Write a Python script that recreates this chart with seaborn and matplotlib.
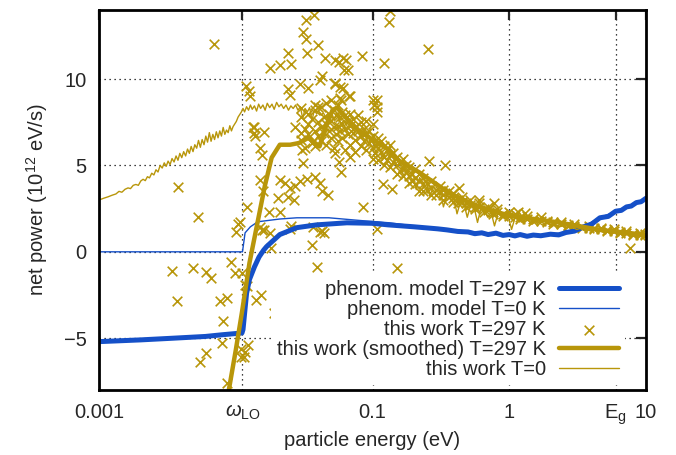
import numpy as np
import pandas as pd
import matplotlib
matplotlib.use("Agg")
import matplotlib.pyplot as plt
import seaborn as sns

# energies in eV, power in 1e12 eV/s
w_lo = 0.0112
e_gap = 6.0

model_297_e = [0.001, 0.002, 0.0035, 0.006, 0.008, 0.0111, 0.0113, 0.0120, 0.0126, 0.0137,
               0.0148, 0.0160, 0.0168, 0.021, 0.028, 0.039, 0.065, 0.1, 0.13, 0.2, 0.3,
               0.35, 0.42, 0.5, 0.56, 0.63, 0.7, 0.8, 0.9, 1.0, 1.1, 1.2, 1.35, 1.5, 1.7,
               2.0, 2.3, 2.6, 3.0, 3.5, 4.0, 4.6, 5.3, 6.0, 6.6, 7.2, 7.8, 8.5, 9.2, 10.0]
model_297_p = [-5.2, -5.1, -5.0, -4.9, -4.8, -4.7, -4.5, -2.4, -1.6, -0.87,
               -0.3, 0.1, 0.3, 1.0, 1.4, 1.56, 1.68, 1.65, 1.56, 1.45, 1.33,
               1.27, 1.18, 1.15, 1.05, 1.1, 1.0, 1.08, 0.95, 1.0, 0.92, 1.0, 0.9, 0.97, 0.93,
               1.02, 0.98, 1.12, 1.2, 1.45, 1.6, 1.97, 2.05, 2.35, 2.4, 2.6, 2.65, 2.85, 2.9, 3.1]

model_0_e = [0.001, 0.0112, 0.0117, 0.0128, 0.0145, 0.021, 0.028, 0.048, 0.085, 0.133,
             0.2, 0.35, 0.63, 1.0, 1.5, 2.0, 2.6, 3.5, 4.6, 6.0, 7.2, 8.5, 10.0]
model_0_p = [0.0, 0.0, 1.1, 1.45, 1.74, 1.9, 1.97, 1.97, 1.8, 1.68,
             1.5, 1.3, 1.12, 1.02, 0.97, 1.02, 1.12, 1.47, 1.99, 2.32, 2.57, 2.82, 3.12]

smooth_e = [0.0089, 0.0100, 0.0111, 0.0126, 0.0141, 0.0163, 0.0183, 0.021, 0.025, 0.029,
            0.034, 0.041, 0.046, 0.051, 0.055, 0.065, 0.08, 0.1, 0.133, 0.155, 0.22,
            0.365, 0.6, 1.0, 2.3, 4.6, 10.0]
smooth_p = [-8.0, -5.7, -3.5, -0.64, 1.3, 3.8, 5.45, 6.2, 6.2, 6.3,
            6.6, 6.1, 7.35, 8.2, 8.35, 7.7, 7.0, 6.5, 5.9, 5.3, 4.6,
            3.4, 2.6, 2.1, 1.7, 1.27, 0.98]

work_0_e = [0.00100, 0.00108, 0.00116, 0.00125, 0.00133, 0.00140, 0.00147, 0.00155, 0.00163, 0.00170,
            0.00178, 0.00186, 0.00194, 0.00202, 0.00210, 0.00218, 0.00226, 0.00234, 0.00243, 0.00252,
            0.00261, 0.00270, 0.00280, 0.00290, 0.00300, 0.00310, 0.00320, 0.00331, 0.00342, 0.00354,
            0.00366, 0.00378, 0.00390, 0.00403, 0.00416, 0.00430, 0.00444, 0.00458, 0.00472, 0.00487,
            0.00502, 0.00518, 0.00534, 0.00551, 0.00568, 0.00586, 0.00604, 0.00622, 0.00641, 0.00660,
            0.00680, 0.00700, 0.00721, 0.00742, 0.00764, 0.00786, 0.00809, 0.00832, 0.00856, 0.00880,
            0.00905, 0.00930, 0.00956, 0.00983, 0.01010, 0.01040, 0.01070, 0.01100,
            0.0113, 0.0116, 0.0120, 0.0124, 0.0128, 0.0132, 0.0137, 0.0142, 0.0147, 0.0152,
            0.0158, 0.0164, 0.0170, 0.0177, 0.0184, 0.0191, 0.0199, 0.0207, 0.0215, 0.0224,
            0.0233, 0.0243, 0.0253, 0.0263, 0.0274, 0.0285, 0.0297, 0.0309, 0.0321, 0.0334,
            0.0347, 0.0361, 0.0375, 0.0390, 0.0405, 0.0421, 0.0437, 0.0454, 0.0472, 0.0490,
            0.0510, 0.053, 0.056, 0.059, 0.062, 0.066, 0.070, 0.074, 0.078, 0.083,
            0.088, 0.093, 0.099, 0.105, 0.111, 0.118, 0.125, 0.132, 0.140, 0.148,
            0.157, 0.166, 0.176, 0.186, 0.197, 0.209, 0.221, 0.234, 0.248, 0.263,
            0.278, 0.295, 0.312, 0.330, 0.350, 0.370, 0.392, 0.415, 0.440, 0.466,
            0.493, 0.522, 0.553, 0.586, 0.620, 0.657, 0.696, 0.737, 0.780, 0.826,
            0.875, 0.927, 0.982, 1.04, 1.10, 1.17, 1.24, 1.31, 1.39, 1.47,
            1.56, 1.65, 1.75, 1.85, 1.96, 2.08, 2.20, 2.33, 2.47, 2.62,
            2.77, 2.94, 3.11, 3.30, 3.49, 3.70, 3.92, 4.15, 4.40, 4.66,
            4.94, 5.23, 5.54, 5.87, 6.22, 6.59, 6.98, 7.39, 7.83, 8.30,
            8.79, 9.31, 9.86]
work_0_p = [3.00, 3.10, 3.18, 3.28, 3.35, 3.50, 3.45, 3.62, 3.70, 3.66,
            3.85, 3.90, 3.85, 4.10, 4.20, 4.12, 4.35, 4.28, 4.55, 4.45,
            4.75, 4.62, 5.00, 4.85, 5.15, 4.95, 5.25, 5.05, 5.40, 5.20,
            5.55, 5.30, 5.70, 5.45, 5.80, 5.55, 5.95, 5.70, 6.10, 5.80,
            6.20, 6.00, 6.45, 6.05, 6.50, 6.20, 6.70, 6.35, 6.90, 6.40,
            6.80, 6.50, 6.95, 6.60, 7.00, 6.70, 7.20, 6.80, 7.05, 6.90,
            7.30, 7.00, 7.25, 7.40, 7.55, 7.80, 7.95, 8.10,
            8.30, 8.10, 8.40, 8.20, 8.50, 8.25, 8.45, 8.15, 8.55, 8.30,
            8.50, 8.20, 8.60, 8.35, 8.55, 8.25, 8.65, 8.40, 8.55, 8.30,
            8.50, 8.20, 8.45, 8.30, 8.50, 8.20, 8.40, 7.70, 8.30, 8.10,
            8.35, 7.60, 8.20, 8.00, 8.15, 7.90, 8.05, 7.80, 8.00, 7.70,
            7.90, 7.60, 7.80, 7.40, 7.60, 7.20, 7.40, 6.90, 7.10, 6.60,
            6.80, 6.30, 6.50, 6.00, 6.20, 5.30, 5.80, 5.50, 5.60, 5.10,
            5.30, 4.60, 4.90, 4.50, 4.70, 3.60, 4.30, 4.00, 4.10, 3.20,
            3.80, 3.50, 3.60, 2.60, 3.30, 3.10, 3.20, 2.20, 2.90, 2.80,
            2.00, 2.70, 2.60, 1.70, 2.50, 2.40, 2.00, 2.30, 1.50, 2.20,
            2.10, 1.90, 2.05, 1.30, 1.95, 1.90, 1.70, 1.85, 1.80, 1.60,
            1.75, 1.70, 1.55, 1.65, 1.60, 1.50, 1.55, 1.45, 1.50, 1.35,
            1.45, 1.40, 1.30, 1.35, 1.25, 1.30, 1.20, 1.25, 1.15, 1.20,
            1.10, 1.15, 1.05, 1.10, 1.00, 1.05, 0.95, 1.00, 0.90, 0.95,
            0.85, 0.90, 0.85]

# scattered points "this work T=297 K": outliers first, then the dense band
scat_e = [0.0038, 0.0053, 0.0069, 0.0034, 0.0049, 0.0061, 0.0066, 0.0037, 0.0077, 0.0087,
          0.0081, 0.0080, 0.0061, 0.0055, 0.0093, 0.0098, 0.0100, 0.0103, 0.0087,
          0.0111, 0.0116, 0.0120, 0.0140, 0.0152, 0.0192, 0.0110, 0.0117, 0.0109, 0.0115,
          0.0122, 0.0118, 0.0124, 0.0127, 0.0133, 0.0138, 0.0150, 0.0155, 0.0137, 0.0160,
          0.0150, 0.0157, 0.0120, 0.0175, 0.0108, 0.0150, 0.0155, 0.0180, 0.0160, 0.0178,
          0.0210, 0.0228, 0.0248, 0.0270, 0.0293, 0.033, 0.038, 0.041, 0.043, 0.047,
          0.0205, 0.0240, 0.0265, 0.021, 0.025, 0.037, 0.041, 0.036, 0.039, 0.028,
          0.0255, 0.043, 0.044,
          0.0179, 0.0210, 0.0255, 0.0243, 0.0325, 0.0375, 0.031, 0.0325, 0.040, 0.033,
          0.045, 0.053, 0.061, 0.084, 0.062, 0.121, 0.134, 0.131, 0.254, 0.057,
          0.064, 0.066, 0.053, 0.061, 0.059, 0.069, 0.101, 0.107, 0.0243, 0.0293,
          0.034, 0.041, 0.043, 0.053, 0.058, 0.067, 0.058, 0.038, 0.040, 0.0250,
          0.103, 0.107, 0.0137, 0.027, 0.030, 0.107, 0.0305, 0.031, 0.053, 0.057,
          0.068, 0.059, 0.085, 0.107, 0.15, 7.7, 0.26, 0.34, 0.12, 0.14,
          0.22, 0.43, 0.77, 0.6, 1.15, 1.3,
          0.030, 0.030, 0.030, 0.032, 0.032, 0.034, 0.034, 0.034, 0.036, 0.036,
          0.038, 0.038, 0.038, 0.040, 0.040, 0.042, 0.042, 0.042, 0.044, 0.044,
          0.046, 0.046, 0.046, 0.048, 0.048, 0.050, 0.050, 0.050, 0.052, 0.052,
          0.052, 0.054, 0.054, 0.056, 0.056, 0.056, 0.058, 0.058, 0.060, 0.060,
          0.060, 0.063, 0.063, 0.063, 0.066, 0.066, 0.069, 0.069, 0.069, 0.072,
          0.072, 0.075, 0.075, 0.075, 0.078, 0.078, 0.082, 0.082, 0.082, 0.086,
          0.086, 0.090, 0.090, 0.090, 0.095, 0.095, 0.100, 0.100, 0.100, 0.100,
          0.105, 0.105, 0.110, 0.110, 0.110, 0.116, 0.116, 0.122, 0.122, 0.122,
          0.128, 0.128, 0.135, 0.135, 0.135, 0.142, 0.142, 0.150, 0.150, 0.150,
          0.158, 0.158, 0.166, 0.166, 0.166, 0.175, 0.175, 0.185, 0.185, 0.185,
          0.195, 0.195, 0.205, 0.205, 0.205, 0.22, 0.22, 0.235, 0.235, 0.235,
          0.25, 0.25, 0.27, 0.27, 0.27, 0.29, 0.29, 0.31, 0.31, 0.33,
          0.33, 0.33, 0.36, 0.36, 0.39, 0.39, 0.39, 0.42, 0.42, 0.45,
          0.45, 0.48, 0.48, 0.52, 0.52, 0.56, 0.56, 0.60, 0.60, 0.65,
          0.65, 0.70, 0.70, 0.76, 0.76, 0.82, 0.82, 0.90, 0.90, 1.0,
          1.0, 1.1, 1.1, 1.2, 1.2, 1.35, 1.35, 1.5, 1.5, 1.7,
          1.7, 1.9, 1.9, 2.1, 2.1, 2.4, 2.4, 2.7, 2.7, 3.0,
          3.0, 3.4, 3.4, 3.8, 3.8, 4.2, 4.2, 4.7, 4.7, 5.2,
          5.2, 5.8, 5.8, 6.5, 6.5, 7.2, 7.2, 8.0, 8.0, 9.0,
          9.0, 9.8, 9.8]
scat_p = [3.77, 2.03, 12.05, -1.1, -0.93, -1.16, -1.5, -2.84, -2.85, -2.67,
          -4.0, -5.3, -5.85, -6.4, -0.6, -1.2, 1.15, 1.6, -7.6,
          -1.2, -1.9, -2.0, -2.8, -2.5, -3.55, -5.6, -5.8, -6.1, -6.1,
          -5.4, 9.6, 9.3, 9.0, 7.2, 6.7, 6.0, 5.6, 6.9, 6.95,
          4.17, 3.5, 2.6, 2.3, 1.7, 1.45, 1.27, 0.23, 1.27, 1.1,
          4.17, 4.0, 3.7, 3.8, 4.1, 4.2, 4.35, 4.0, 3.5, 3.3,
          3.1, 3.2, 3.0, 2.3, 1.3, 1.45, 1.15, 0.4, -0.87, -2.9,
          1.5, 1.2, 1.1,
          10.65, 10.8, 10.9, 11.5, 13.4, 13.7, 12.75, 12.3, 12.0, 11.5,
          11.2, 11.1, 11.2, 11.35, 10.5, 10.95, 13.96, 13.3, 11.76, 11.0,
          11.1, 10.5, 9.8, 9.5, 8.8, 9.0, 8.8, 8.4, 9.4, 9.7,
          9.5, 9.95, 10.2, 9.7, 9.55, 9.0, 8.9, 8.5, 8.4, 9.1,
          8.5, 8.8, 7.25, 7.25, 6.9, 8.1, 5.9, 5.15, 5.7, 5.2,
          5.5, 4.6, 2.6, 1.33, -0.93, 0.23, 5.25, 5.0, 3.9, 3.65,
          3.5, 3.7, 2.84, 3.0, 2.3, 2.25,
          7.8, 6.5, 8.3, 7.1, 6.0, 8.0, 6.8, 7.4, 6.3, 7.7,
          7.0, 8.2, 6.1, 7.5, 6.7, 8.4, 7.2, 6.4, 6.9, 7.8,
          7.4, 8.6, 6.2, 7.0, 8.0, 7.6, 6.6, 8.8, 7.2, 6.0,
          8.2, 7.9, 6.8, 7.3, 8.5, 6.4, 7.0, 7.8, 6.6, 8.1,
          7.4, 7.1, 5.9, 7.9, 6.8, 7.6, 7.3, 6.2, 8.0, 6.9,
          7.7, 6.5, 7.2, 5.8, 7.0, 7.9, 6.7, 6.1, 7.5, 6.4,
          7.1, 6.9, 5.9, 7.6, 6.3, 7.0, 6.0, 6.7, 5.4, 7.4,
          6.2, 5.7, 6.6, 5.3, 6.0, 5.8, 6.4, 5.5, 6.1, 5.0,
          5.9, 5.3, 5.6, 4.9, 6.2, 5.2, 5.7, 5.0, 5.5, 4.5,
          5.2, 4.7, 4.9, 5.4, 4.4, 4.6, 5.0, 4.4, 4.9, 4.0,
          4.5, 4.1, 4.3, 4.8, 3.9, 4.1, 4.5, 3.9, 4.3, 3.5,
          4.0, 3.6, 3.7, 4.1, 3.3, 3.6, 3.3, 3.5, 3.8, 3.3,
          3.6, 3.0, 3.2, 3.5, 3.1, 2.9, 3.4, 3.0, 2.8, 2.9,
          3.2, 2.8, 2.6, 2.7, 3.0, 2.6, 2.5, 2.6, 2.8, 2.5,
          2.3, 2.4, 2.6, 2.3, 2.2, 2.3, 2.5, 2.2, 2.1, 2.1,
          2.3, 2.0, 2.2, 2.0, 1.9, 1.9, 2.1, 1.9, 1.8, 1.8,
          2.0, 1.7, 1.8, 1.7, 1.6, 1.6, 1.75, 1.55, 1.5, 1.5,
          1.6, 1.45, 1.4, 1.4, 1.5, 1.35, 1.3, 1.3, 1.4, 1.25,
          1.2, 1.2, 1.3, 1.15, 1.1, 1.1, 1.2, 1.05, 1.0, 1.0,
          1.1, 0.95, 1.05]

x_ticks = [0.001, w_lo, 0.1, 1, e_gap, 10]
x_labels = ["0.001", r"$\omega_{\mathrm{LO}}$", "0.1", "1", r"$\mathrm{E}_\mathrm{g}$", "10"]
y_ticks = [-5, 0, 5, 10]

blue = "#1550c8"
gold = "#b8960a"
fs = 14.5

sns.set_style("white")
plt.rcParams["font.family"] = ["Liberation Sans", "DejaVu Sans"]
plt.rcParams["mathtext.fontset"] = "custom"
plt.rcParams["mathtext.rm"] = "Liberation Sans"
plt.rcParams["mathtext.it"] = "Liberation Sans:italic"
plt.rcParams["font.size"] = fs

fig = plt.figure(figsize=(6.76, 4.55), dpi=100)
ax = fig.add_axes([99 / 676, 65 / 455, 547 / 676, 380 / 455])
ax.set_xscale("log")

sns.lineplot(x=model_297_e, y=model_297_p, ax=ax, color=blue, linewidth=3.6,
             sort=False, estimator=None, label="phenom. model T=297 K")
sns.lineplot(x=model_0_e, y=model_0_p, ax=ax, color=blue, linewidth=1.0,
             sort=False, estimator=None, label="phenom. model T=0 K")
sns.scatterplot(x=scat_e, y=scat_p, ax=ax, color=gold, marker="x", s=48,
                linewidth=1.2, label="this work T=297 K")
sns.lineplot(x=smooth_e, y=smooth_p, ax=ax, color=gold, linewidth=3.2,
             sort=False, estimator=None, label="this work (smoothed) T=297 K")
sns.lineplot(x=work_0_e, y=work_0_p, ax=ax, color=gold, linewidth=1.0,
             sort=False, estimator=None, label="this work T=0")

ax.set_xlim(0.001, 10)
ax.set_ylim(-8, 14)
ax.set_xticks(x_ticks)
ax.set_xticklabels(x_labels)
ax.xaxis.set_minor_locator(matplotlib.ticker.NullLocator())
ax.set_yticks(y_ticks)
ax.grid(True, color="black", linestyle=(0, (1, 3)), linewidth=0.9)
ax.tick_params(direction="in", length=7, width=1.6, top=True, right=True,
               labelsize=fs, pad=9)
for s in ax.spines.values():
    s.set_linewidth(2.0)
    s.set_color("black")

ax.set_xlabel("particle energy (eV)", fontsize=fs, labelpad=3)
ax.set_ylabel(r"net power (10$^{12}$ eV/s)", fontsize=fs, labelpad=10)

# markerfirst=False right-aligns the rows, so labels end next to their handles
leg = ax.legend(loc="lower right", bbox_to_anchor=(0.962, 0.013), markerfirst=False,
                frameon=True, fancybox=False, edgecolor="none", framealpha=1.0,
                handlelength=3.0, handletextpad=0.65, labelspacing=0.05,
                borderpad=0.3, borderaxespad=0, fontsize=fs)

fig.savefig("out.png", dpi=100)
